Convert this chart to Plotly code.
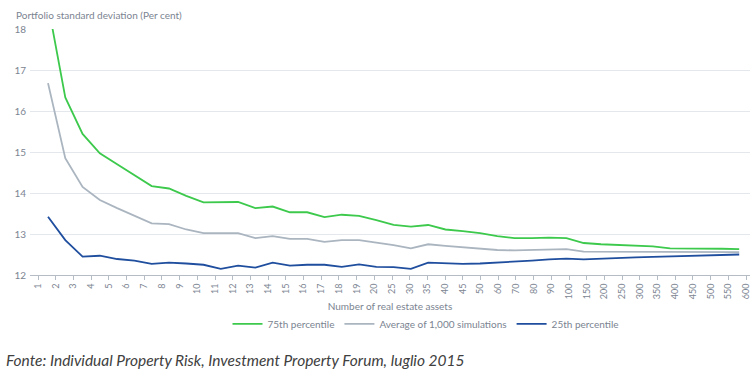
import plotly.graph_objects as go

categories = [str(i) for i in range(1, 21)] + ["25", "30", "35", "40", "45", "50",
              "60", "70", "80", "90", "100", "150", "200", "250", "300", "350",
              "400", "450", "500", "550", "600"]

p75 = [18.6, 16.33, 15.44, 14.97, 14.70, 14.44, 14.17, 14.11, 13.93, 13.77,
       13.78, 13.78, 13.63, 13.67, 13.53, 13.53, 13.41, 13.47, 13.44, 13.34,
       13.22, 13.18, 13.22, 13.11, 13.07, 13.02, 12.95, 12.90, 12.90, 12.91,
       12.90, 12.78, 12.75, 12.73, 12.71, 12.70, 12.65, 12.65, 12.65, 12.64, 12.63]

avg = [16.68, 14.85, 14.15, 13.83, 13.63, 13.45, 13.26, 13.24, 13.11, 13.02,
       13.02, 13.02, 12.90, 12.95, 12.88, 12.88, 12.81, 12.85, 12.85, 12.79,
       12.73, 12.65, 12.75, 12.71, 12.68, 12.64, 12.61, 12.60, 12.61, 12.62,
       12.63, 12.57, 12.57, 12.57, 12.57, 12.57, 12.57, 12.57, 12.56, 12.56, 12.56]

p25 = [13.42, 12.85, 12.45, 12.47, 12.39, 12.35, 12.27, 12.30, 12.28, 12.25,
       12.15, 12.23, 12.18, 12.30, 12.23, 12.25, 12.25, 12.20, 12.26, 12.20,
       12.19, 12.15, 12.30, 12.28, 12.27, 12.28, 12.30, 12.33, 12.35, 12.38,
       12.40, 12.38, 12.40, 12.42, 12.43, 12.44, 12.45, 12.46, 12.47, 12.49, 12.50]

y_ticks = [12, 13, 14, 15, 16, 17, 18]

GREEN = "#3cc94c"
GREY = "#aab5c0"
BLUE = "#1f4e9e"
TXT = "#7b8491"
FONT = "Lato"

fig = go.Figure()
# empty trace that only registers the category tick axis
fig.add_trace(go.Scatter(x=[], y=[], mode="lines", showlegend=False, hoverinfo="skip",
                         xaxis="x", yaxis="y"))
for name, vals, col in [("75th percentile", p75, GREEN),
                        ("Average of 1,000 simulations", avg, GREY),
                        ("25th percentile", p25, BLUE)]:
    fig.add_trace(go.Scatter(x=categories, y=vals, mode="lines", name=name,
                             line=dict(color=col, width=1.8), xaxis="x2", yaxis="y"))

fig.update_layout(
    width=751, height=384,
    margin=dict(l=30, r=1, t=29, b=109),
    paper_bgcolor="white", plot_bgcolor="white",
    font=dict(family=FONT, size=10, color=TXT),
    showlegend=True,
    legend=dict(orientation="h", x=0.55, xanchor="center", y=-0.14, yanchor="top",
                font=dict(size=10, color=TXT), itemwidth=30, tracegroupgap=0),
    xaxis=dict(type="linear", range=[-0.452, 40.226], anchor="y",
               tickmode="array", tickvals=list(range(len(categories))), ticktext=categories,
               tickangle=-90, ticks="outside", ticklen=4, tickcolor="#b5bcc4",
               showline=True, linecolor="#b5bcc4", linewidth=1,
               showgrid=False, zeroline=False,
               tickfont=dict(size=9, color=TXT),
               title=dict(text="Number of real estate assets", font=dict(size=10, color=TXT), standoff=4)),
    xaxis2=dict(type="category", categoryarray=categories, range=[-1.042, 40.625],
                overlaying="x", anchor="y", side="bottom",
                showticklabels=False, showgrid=False, zeroline=False, ticks="", showline=False),
    yaxis=dict(range=[12, 18], tickvals=y_ticks, showgrid=True, gridcolor="#e4e8ec",
               gridwidth=1, zeroline=False, showline=False, ticks="", ticklabelstandoff=3,
               tickfont=dict(size=10, color=TXT)),
    annotations=[
        dict(text="Portfolio standard deviation (Per cent)", xref="paper", yref="paper",
             x=-16/720, y=1 + 14/246, xanchor="left", yanchor="middle", showarrow=False,
             font=dict(size=10, color=TXT)),
        dict(text="<i>Fonte: Individual Property Risk, Investment Property Forum, luglio 2015</i>",
             xref="paper", yref="paper", x=-26/720, y=-85/246, xanchor="left", yanchor="middle",
             showarrow=False, font=dict(family=FONT, size=15.5, color="#404040")),
    ],
)

fig.write_html("out.html", config={"displayModeBar": False},
               post_script="document.body.style.margin='0';")
